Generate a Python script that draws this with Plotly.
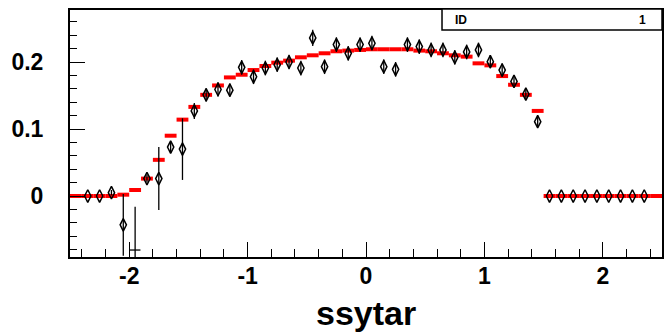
import plotly.graph_objects as go

# ---- data ----
bin_width = 0.1
centers = [round(-2.45 + 0.1 * i, 2) for i in range(50)]

# red reference histogram (one value per bin)
ref_vals = [0, 0, 0, 0, 0.002, 0.009, 0.026, 0.054, 0.090, 0.114,
            0.133, 0.151, 0.165, 0.177, 0.181, 0.188, 0.194, 0.199, 0.202, 0.207,
            0.210, 0.213, 0.216, 0.217, 0.218, 0.219, 0.219, 0.219, 0.219, 0.217,
            0.216, 0.213, 0.210, 0.208, 0.198, 0.195, 0.179, 0.166, 0.151, 0.127,
            0, 0, 0, 0, 0, 0, 0, 0, 0, 0]

# data points (diamonds)
data_x = [-2.35, -2.25, -2.15, -2.05, -1.85, -1.75, -1.65, -1.55, -1.45, -1.35,
          -1.25, -1.15, -1.05, -0.95, -0.85, -0.75, -0.65, -0.55, -0.45, -0.35,
          -0.25, -0.15, -0.05, 0.05, 0.15, 0.25, 0.35, 0.45, 0.55, 0.65,
          0.75, 0.85, 0.95, 1.05, 1.15, 1.25, 1.35, 1.45,
          1.55, 1.65, 1.75, 1.85, 1.95, 2.05, 2.15, 2.25, 2.35]
data_y = [0.0, 0.0, 0.005, -0.043, 0.026, 0.026, 0.073, 0.070, 0.127, 0.151,
          0.159, 0.158, 0.192, 0.178, 0.191, 0.196, 0.200, 0.191, 0.236, 0.193,
          0.226, 0.213, 0.226, 0.228, 0.193, 0.189, 0.226, 0.223, 0.218, 0.218,
          0.207, 0.215, 0.218, 0.2005, 0.188, 0.171, 0.152, 0.111,
          0, 0, 0, 0, 0, 0, 0, 0, 0]
data_err = [0, 0, 0.004, 0.046, 0.006, 0.047, 0.008, 0.046, 0.012, 0.010,
            0.011, 0.010, 0.011, 0.011, 0.011, 0.011, 0.011, 0.011, 0.012, 0.011,
            0.011, 0.011, 0.011, 0.011, 0.011, 0.011, 0.011, 0.011, 0.011, 0.011,
            0.011, 0.011, 0.011, 0.010, 0.010, 0.009, 0.008, 0.007,
            0, 0, 0, 0, 0, 0, 0, 0, 0]

# point whose marker falls off the frame (only its bars show)
low_x = [-1.95]
low_y = [-0.0806]
low_err_up = [0.0646]
low_err_down = [0.03]
low_err_x = [0.045]

x_ticks = [-2, -1, 0, 1, 2]
x_tick_text = ["-2", "-1", "0", "1", "2"]
y_ticks = [0, 0.1, 0.2]
y_tick_text = ["0", "0.1", "0.2"]
x_title = "ssytar"
stats_label = "ID"
stats_value = "1"

# ---- build red step segments from the bin values ----
seg_x, seg_y = [], []
for c, v in zip(centers, ref_vals):
    seg_x += [c - bin_width / 2, c + bin_width / 2, None]
    seg_y += [v, v, None]

font_family = "Liberation Sans, Arial, sans-serif"

fig = go.Figure()
fig.add_trace(go.Scatter(x=seg_x, y=seg_y, mode="lines",
                         line=dict(color="#ff0000", width=4),
                         hoverinfo="skip", showlegend=False))
fig.add_trace(go.Scatter(x=data_x, y=data_y, mode="markers",
                         marker=dict(symbol="diamond-tall-open", size=9, color="black",
                                     line=dict(color="black", width=1.5)),
                         error_y=dict(type="data", array=data_err, color="black",
                                      thickness=1.3, width=0),
                         showlegend=False))
fig.add_trace(go.Scatter(x=low_x, y=low_y, mode="markers",
                         marker=dict(opacity=0, size=1, color="black"),
                         error_y=dict(type="data", symmetric=False, array=low_err_up,
                                      arrayminus=low_err_down, color="black",
                                      thickness=1.3, width=0),
                         error_x=dict(type="data", array=low_err_x, color="black",
                                      thickness=1.3, width=0),
                         showlegend=False))

fig.update_layout(
    width=671, height=335,
    margin=dict(l=70, r=9, t=10, b=78),
    paper_bgcolor="white", plot_bgcolor="white",
    font=dict(family=font_family, color="black"),
    xaxis=dict(range=[-2.5, 2.5], tickvals=x_ticks, ticktext=x_tick_text,
               ticks="inside", ticklen=15,
               tickwidth=1.2, tickcolor="black",
               minor=dict(ticks="inside", ticklen=8, dtick=0.2, tick0=0,
                          tickcolor="black", tickwidth=1.2, showgrid=False),
               showline=True, linecolor="black", linewidth=2, mirror=True,
               showgrid=False, zeroline=False, automargin=False,
               tickfont=dict(family=font_family, size=23, weight="bold"),
               ticklabelstandoff=-3),
    yaxis=dict(range=[-0.091, 0.2776], tickvals=y_ticks, ticktext=y_tick_text,
               ticks="inside", ticklen=15, tickwidth=1.2, tickcolor="black",
               minor=dict(ticks="inside", ticklen=7, dtick=0.02, tick0=0,
                          tickcolor="black", tickwidth=1.2, showgrid=False),
               showline=True, linecolor="black", linewidth=2, mirror=True,
               showgrid=False, zeroline=False, automargin=False,
               tickfont=dict(family=font_family, size=23, weight="bold"),
               ticklabelstandoff=20),
    shapes=[dict(type="rect", xref="paper", yref="paper", x0=0.6284, x1=1.0,
                 y0=0.919, y1=1.004, line=dict(color="black", width=1.5),
                 fillcolor="white", layer="above")],
    annotations=[
        dict(text=x_title, xref="paper", yref="paper", x=0.5, y=-0.2267,
             xanchor="center", yanchor="middle", showarrow=False,
             font=dict(family=font_family, size=34, weight="bold")),
        dict(text=stats_label, xref="paper", yref="paper", x=0.6465, y=0.96,
             xanchor="left", yanchor="middle", showarrow=False,
             font=dict(family=font_family, size=12, weight="bold")),
        dict(text=stats_value, xref="paper", yref="paper", x=0.977, y=0.96,
             xanchor="right", yanchor="middle", showarrow=False,
             font=dict(family=font_family, size=12, weight="bold")),
    ],
)

fig.write_html("out.html", config={"displayModeBar": False},
               post_script="document.body.style.margin='0';document.body.style.padding='0';")
